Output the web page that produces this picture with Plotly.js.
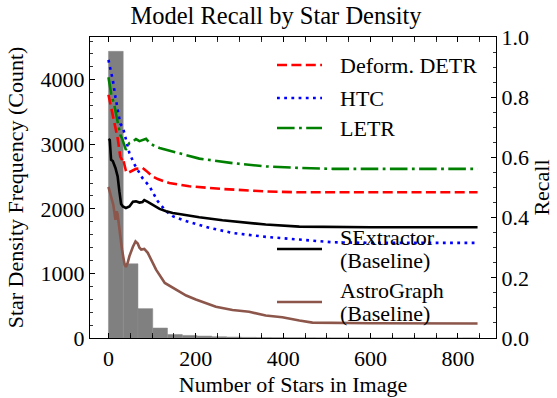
<!DOCTYPE html>
<html>
<head>
<meta charset="utf-8">
<script src="https://cdn.plot.ly/plotly-3.0.1.min.js"></script>
<style>html,body{margin:0;padding:0;background:#fff;}#chart{width:557px;height:398px;}</style>
</head>
<body>
<div id="chart"></div>
<script>
// ---- data ----
const histBinWidth = 33.8;
const histCounts = [4440, 1150, 455, 155, 55, 40, 30, 20, 15, 10, 8, 6, 5, 4, 3, 2, 2, 1, 1, 1, 1, 0, 0, 0, 1];

const htcX = [0, 5, 10, 16, 21, 27, 33, 39, 48, 59, 67, 78, 94, 113, 132, 147, 170, 200, 231, 284, 360, 437, 513, 600, 845];
const htcY = [0.924, 0.89, 0.857, 0.80, 0.758, 0.712, 0.70, 0.669, 0.614, 0.578, 0.556, 0.531, 0.504, 0.454, 0.421, 0.405, 0.392, 0.38, 0.366, 0.349, 0.336, 0.327, 0.318, 0.316, 0.316];

const letrX = [0, 6, 14, 21, 27, 31, 37, 40, 44, 48, 56, 63, 71, 78, 86, 94, 105, 117, 147, 178, 208, 284, 360, 437, 513, 600, 845];
const letrY = [0.866, 0.813, 0.769, 0.719, 0.675, 0.664, 0.636, 0.625, 0.638, 0.648, 0.653, 0.661, 0.654, 0.658, 0.662, 0.648, 0.638, 0.631, 0.62, 0.609, 0.596, 0.581, 0.57, 0.565, 0.562, 0.562, 0.562];

const detrX = [0, 6, 14, 21, 27, 31, 33, 37, 40, 44, 52, 63, 71, 78, 86, 94, 101, 113, 139, 185, 261, 360, 437, 600, 845];
const detrY = [0.808, 0.769, 0.719, 0.664, 0.603, 0.592, 0.598, 0.57, 0.555, 0.548, 0.553, 0.562, 0.563, 0.565, 0.556, 0.545, 0.537, 0.528, 0.515, 0.504, 0.495, 0.487, 0.484, 0.484, 0.484];

const sexX = [0, 3, 6, 10, 16, 21, 25, 29, 33, 40, 48, 56, 63, 71, 78, 82, 90, 94, 109, 117, 132, 147, 162, 208, 261, 299, 360, 437, 513, 600, 845];
const sexY = [0.661, 0.658, 0.592, 0.588, 0.565, 0.537, 0.487, 0.445, 0.437, 0.432, 0.437, 0.453, 0.454, 0.45, 0.452, 0.458, 0.452, 0.449, 0.435, 0.429, 0.421, 0.415, 0.412, 0.401, 0.391, 0.385, 0.377, 0.37, 0.368, 0.368, 0.368];

const agX = [0, 6, 11, 16, 19, 21, 25, 31, 37, 40, 44, 48, 56, 62, 67, 71, 75, 82, 90, 109, 129, 155, 178, 200, 231, 246, 284, 322, 360, 398, 437, 467, 600, 845];
const agY = [0.502, 0.465, 0.443, 0.393, 0.421, 0.41, 0.36, 0.294, 0.244, 0.236, 0.25, 0.272, 0.303, 0.321, 0.314, 0.300, 0.294, 0.296, 0.283, 0.227, 0.183, 0.161, 0.141, 0.128, 0.111, 0.104, 0.093, 0.087, 0.075, 0.069, 0.058, 0.051, 0.049, 0.048];

const seriesNames = ["Deform. DETR", "HTC", "LETR", "SExtractor", "AstroGraph"];
const baselineTag = "(Baseline)";

// ---- styles ----
const FONT = "Liberation Serif, Times New Roman, serif";
const LW = 2.6;
const styles = {
  detr: {color: "#ff0000", width: LW, dash: "10px,4.4px"},
  htc: {color: "#0000ff", width: LW, dash: "2.8px,4.4px"},
  letr: {color: "#008000", width: LW, dash: "17.6px,4.4px,2.8px,4.4px"},
  sex: {color: "#000000", width: LW, dash: "solid"},
  ag: {color: "#8c564b", width: LW, dash: "solid"}
};

const W = 557, H = 398, ML = 90, MR = 61, MT = 37, MB = 60;
const PW = W - ML - MR, PH = H - MT - MB;
const px2x = p => (p - ML) / PW;
const py2y = p => (H - MB - p) / PH;

const traces = [
  {type: "bar", x: histCounts.map((_, i) => (i + 0.5) * histBinWidth), y: histCounts,
   width: histBinWidth, marker: {color: "#808080", line: {color: "#8a8a8a", width: 0.5}},
   yaxis: "y", hoverinfo: "skip", showlegend: false},
  {type: "scatter", mode: "lines", x: detrX, y: detrY, yaxis: "y2", line: styles.detr, name: seriesNames[0], showlegend: false},
  {type: "scatter", mode: "lines", x: htcX, y: htcY, yaxis: "y2", line: styles.htc, name: seriesNames[1], showlegend: false},
  {type: "scatter", mode: "lines", x: letrX, y: letrY, yaxis: "y2", line: styles.letr, name: seriesNames[2], showlegend: false},
  {type: "scatter", mode: "lines", x: sexX, y: sexY, yaxis: "y2", line: styles.sex, name: seriesNames[3], showlegend: false},
  {type: "scatter", mode: "lines", x: agX, y: agY, yaxis: "y2", line: styles.ag, name: seriesNames[4], showlegend: false}
];

// manual legend (matplotlib-like)
const legItems = [
  {st: styles.detr, ly: 65, lines: [[seriesNames[0], 65]]},
  {st: styles.htc, ly: 98, lines: [[seriesNames[1], 98]]},
  {st: styles.letr, ly: 128, lines: [[seriesNames[2], 128]]},
  {st: styles.sex, ly: 249, lines: [[seriesNames[3], 237], [baselineTag, 260]]},
  {st: styles.ag, ly: 302, lines: [[seriesNames[4], 290], [baselineTag, 313]]}
];
const shapes = [], annotations = [];
legItems.forEach(it => {
  shapes.push({type: "line", xref: "paper", yref: "paper", x0: px2x(277), x1: px2x(322), y0: py2y(it.ly), y1: py2y(it.ly),
    line: {color: it.st.color, width: it.st.width, dash: it.st.dash}});
  it.lines.forEach(([t, y]) => annotations.push({xref: "paper", yref: "paper", x: px2x(338), y: py2y(y),
    xanchor: "left", yanchor: "middle", showarrow: false, text: t, font: {family: FONT, size: 22, color: "#000"}}));
});

const axCommon = {
  showgrid: false, zeroline: false, showline: true, linecolor: "#000", linewidth: 1.1,
  ticks: "inside", ticklen: 5, tickwidth: 1, tickcolor: "#000",
  tickfont: {family: FONT, size: 22, color: "#000"}
};

const layout = {
  width: W, height: H,
  margin: {l: ML, r: MR, t: MT, b: MB, pad: 0},
  paper_bgcolor: "#fff", plot_bgcolor: "rgba(0,0,0,0)",
  font: {family: FONT, size: 22, color: "#000"},
  title: {text: "Model Recall by Star Density", font: {family: FONT, size: 24.5, color: "#000"},
          xref: "container", yref: "container", x: 276 / W, xanchor: "center", y: 1 - 15 / H, yanchor: "middle"},
  xaxis: Object.assign({}, axCommon, {range: [-42.25, 887.25], tick0: 0, dtick: 200, mirror: "allticks",
    minor: {dtick: 50, ticks: "inside", ticklen: 2.7, tickwidth: 0.8, tickcolor: "#000"},
    title: {text: "Number of Stars in Image", font: {family: FONT, size: 22}, standoff: 7}}),
  yaxis: Object.assign({}, axCommon, {range: [0, 4662], tick0: 0, dtick: 1000,
    minor: {dtick: 200, ticks: "inside", ticklen: 2.7, tickwidth: 0.8, tickcolor: "#000"},
    title: {text: "Star Density Frequency (Count)", font: {family: FONT, size: 22}, standoff: 10}}),
  yaxis2: Object.assign({}, axCommon, {overlaying: "y", side: "right", range: [0, 1], tick0: 0, dtick: 0.2, tickformat: ".1f",
    minor: {dtick: 0.05, ticks: "inside", ticklen: 2.7, tickwidth: 0.8, tickcolor: "#000"},
    title: {text: "Recall", font: {family: FONT, size: 22}, standoff: 2}}),
  shapes: shapes,
  annotations: annotations,
  showlegend: false
};

Plotly.newPlot("chart", traces, layout, {displayModeBar: false, staticPlot: true});
</script>
</body>
</html>
